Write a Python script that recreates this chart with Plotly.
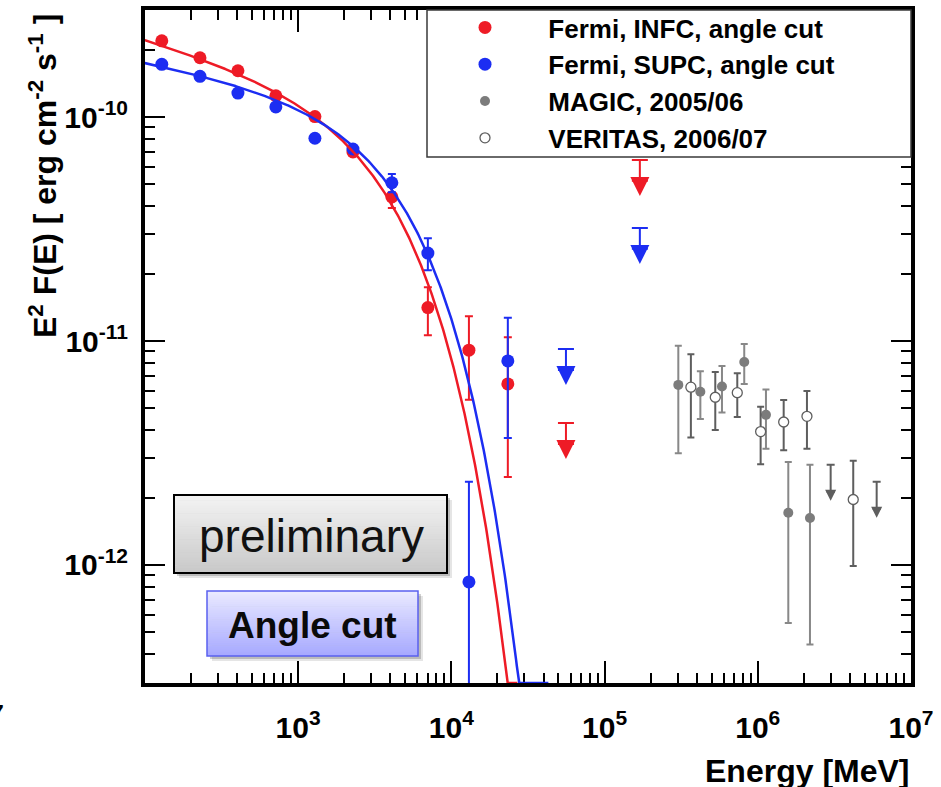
import numpy as np
import plotly.graph_objects as go

# ---------------- Fermi-LAT spectral points (E in MeV, E^2 F(E) in erg cm^-2 s^-1)
fermi_energy = [129, 229, 405, 716, 1288, 2281, 4093, 7031, 13030, 23380]

infc_flux = [2.19e-10, 1.84e-10, 1.61e-10, 1.245e-10, 1.005e-10, 6.98e-11, 4.40e-11, 1.41e-11, 9.1e-12, 6.43e-12]
infc_low = [2.13e-10, 1.79e-10, 1.57e-10, 1.21e-10, 0.98e-10, 6.75e-11, 3.93e-11, 1.06e-11, 5.46e-12, 2.47e-12]
infc_high = [2.25e-10, 1.89e-10, 1.65e-10, 1.28e-10, 1.03e-10, 7.2e-11, 4.92e-11, 1.74e-11, 1.29e-11, 1.04e-11]

supc_flux = [1.72e-10, 1.52e-10, 1.28e-10, 1.11e-10, 8.04e-11, 7.20e-11, 5.09e-11, 2.47e-11, 8.4e-13, 8.15e-12]
supc_low = [1.67e-10, 1.48e-10, 1.24e-10, 1.08e-10, 7.8e-11, 7.0e-11, 4.62e-11, 2.07e-11, 1e-15, 3.69e-12]
supc_high = [1.77e-10, 1.56e-10, 1.32e-10, 1.14e-10, 8.3e-11, 7.4e-11, 5.57e-11, 2.88e-11, 2.35e-12, 1.27e-11]

# Fermi upper limits
ul_energy = [5.6e4, 1.7e5]
infc_ul = [4.3e-12, 6.43e-11]
supc_ul = [9.2e-12, 3.2e-11]

# ---------------- IACT measurements
magic_energy = [3.03e5, 4.22e5, 5.84e5, 8.16e5, 1.131e6, 1.582e6, 2.191e6]
magic_flux = [6.37e-12, 5.94e-12, 6.26e-12, 8.06e-12, 4.68e-12, 1.71e-12, 1.62e-12]
magic_low = [3.15e-12, 4.48e-12, 4.79e-12, 6.43e-12, 3.30e-12, 5.5e-13, 4.41e-13]
magic_high = [9.53e-12, 7.33e-12, 7.74e-12, 9.71e-12, 6.07e-12, 2.88e-12, 2.80e-12]

veritas_energy = [3.66e5, 5.28e5, 7.35e5, 1.044e6, 1.476e6, 2.094e6, 4.198e6]
veritas_flux = [6.22e-12, 5.61e-12, 5.88e-12, 3.94e-12, 4.35e-12, 4.61e-12, 1.96e-12]
veritas_low = [3.71e-12, 4.01e-12, 4.58e-12, 2.82e-12, 3.25e-12, 3.30e-12, 9.9e-13]
veritas_high = [8.73e-12, 7.28e-12, 7.18e-12, 5.09e-12, 5.45e-12, 5.98e-12, 2.92e-12]

iact_ul_energy = [2.99e6, 5.97e6]
iact_ul = [2.80e-12, 2.35e-12]

# ---------------- Power law with exponential cutoff fits: N * (E/1 GeV)^s * exp(-E/Ec)
infc_fit = dict(norm=1.426e-10, slope=-0.20, ecut=4200.0, emax=2.7e4)
supc_fit = dict(norm=1.318e-10, slope=-0.13, ecut=4874.0, emax=4.3e4)

# axis setup
x_log_range = [2.001, 7.0]
y_log_range = [-12.527, -9.522]
x_major = [1e3, 1e4, 1e5, 1e6, 1e7]
x_major_text = ["10<sup>3</sup>", "10<sup>4</sup>", "10<sup>5</sup>", "10<sup>6</sup>", "10<sup>7</sup>"]
y_major = [1e-12, 1e-11, 1e-10]
y_major_text = ["10<sup>-12</sup>", "10<sup>-11</sup>", "10<sup>-10</sup>"]
x_minor = [k * 10.0 ** n for n in range(2, 7) for k in range(2, 10)]
y_minor = [k * 10.0 ** n for n in range(-13, -9) for k in range(2, 10)
           if y_log_range[0] <= np.log10(k * 10.0 ** n) <= y_log_range[1]]

RED = "#ee1b26"
BLUE = "#1c2df2"
MAGIC_COL = "#7c7c7c"
MAGIC_BAR = "#888888"
VER_COL = "#5e5e5e"
FONT = "Liberation Sans"

# figure geometry in pixels
W, H = 941, 787
PL, PR, PT, PB = 145, 911, 10, 683
DEC_PX = (PB - PT) / (y_log_range[1] - y_log_range[0])
ARROW_PX = 36  # length of upper-limit arrows


def xp(px):
    return (px - PL) / (PR - PL)


def yp(py):
    return (PB - py) / (PB - PT)


fig = go.Figure()


def add_points(x, y, lo, hi, name, color, size, bar_color, cap, fill=None, group=None):
    # error bars first, markers on top of them
    fig.add_trace(go.Scatter(
        x=x, y=y, mode="markers", showlegend=False, legendgroup=group, hoverinfo="skip",
        marker=dict(size=1, opacity=0),
        error_y=dict(type="data", symmetric=False,
                     array=[h - v for v, h in zip(y, hi)],
                     arrayminus=[v - l for v, l in zip(y, lo)],
                     color=bar_color, thickness=2, width=cap)))
    fig.add_trace(go.Scatter(
        x=x, y=y, mode="markers", name=name, legendgroup=group,
        marker=dict(symbol="circle", size=size, color=fill if fill else color,
                    line=dict(color=color, width=1.3 if fill else 0))))


def add_upper_limits(x, ul, color, size, cap, group):
    tip = [u / 10 ** (ARROW_PX / DEC_PX) for u in ul]
    base = [t * 10 ** (0.8 * size / DEC_PX) for t in tip]
    fig.add_trace(go.Scatter(
        x=x, y=base, mode="markers", showlegend=False, legendgroup=group, hoverinfo="skip",
        marker=dict(size=1, opacity=0),
        error_y=dict(type="data", symmetric=False,
                     array=[u - b for u, b in zip(ul, base)], arrayminus=[0] * len(ul),
                     color=color, thickness=2, width=cap)))
    fig.add_trace(go.Scatter(
        x=x, y=tip, mode="markers", showlegend=False, legendgroup=group,
        marker=dict(symbol="arrow-down", size=size, color=color, line=dict(width=0))))


def add_fit(p, color, group):
    e = np.logspace(2, np.log10(p["emax"]), 500)
    f = p["norm"] * (e / 1000.0) ** p["slope"] * np.exp(-e / p["ecut"])
    f = np.maximum(f, 10 ** y_log_range[0])
    fig.add_trace(go.Scatter(x=e, y=f, mode="lines", showlegend=False, legendgroup=group,
                             line=dict(color=color, width=2.5), hoverinfo="skip"))


PAD = "\u00a0" * 6

add_points(fermi_energy, infc_flux, infc_low, infc_high, PAD + "Fermi, INFC, angle cut",
           RED, 13, RED, 4, group="infc")
add_points(fermi_energy, supc_flux, supc_low, supc_high, PAD + "Fermi, SUPC, angle cut",
           BLUE, 13, BLUE, 4, group="supc")
add_upper_limits(ul_energy, infc_ul, RED, 19, 8, "infc")
add_upper_limits(ul_energy, supc_ul, BLUE, 19, 8, "supc")
add_points(magic_energy, magic_flux, magic_low, magic_high, PAD + "MAGIC, 2005/06",
           MAGIC_COL, 10, MAGIC_BAR, 3.5, group="magic")
add_points(veritas_energy, veritas_flux, veritas_low, veritas_high, PAD + "VERITAS, 2006/07",
           VER_COL, 10, VER_COL, 3.5, fill="white", group="veritas")
add_upper_limits(iact_ul_energy, iact_ul, VER_COL, 11, 4, "veritas")
add_fit(infc_fit, RED, "infc")
add_fit(supc_fit, BLUE, "supc")

shapes = []
annotations = []


def gradient_box(x0, y0, x1, y1, top, bottom, border, bw, n=30):
    # soft drop shadow
    for off, a in [(5, 0.10), (3, 0.18)]:
        shapes.append(dict(type="rect", xref="paper", yref="paper",
                           x0=xp(x0 + off), x1=xp(x1 + off), y0=yp(y0 + off), y1=yp(y1 + off),
                           fillcolor=f"rgba(0,0,0,{a})", line=dict(width=0), layer="above"))
    for i in range(n):
        t = (i + 0.5) / n
        c = [int(round(top[k] + (bottom[k] - top[k]) * t)) for k in range(3)]
        ya = y0 + (y1 - y0) * i / n
        yb = y0 + (y1 - y0) * (i + 1) / n + 0.6
        shapes.append(dict(type="rect", xref="paper", yref="paper",
                           x0=xp(x0), x1=xp(x1), y0=yp(ya), y1=yp(min(yb, y1)),
                           fillcolor=f"rgb({c[0]},{c[1]},{c[2]})", line=dict(width=0),
                           layer="above"))
    shapes.append(dict(type="rect", xref="paper", yref="paper",
                       x0=xp(x0), x1=xp(x1), y0=yp(y0), y1=yp(y1),
                       line=dict(color=border, width=bw), layer="above"))


# legend frame
shapes.append(dict(type="rect", xref="paper", yref="paper",
                   x0=xp(427), x1=xp(911), y0=yp(157), y1=yp(10),
                   fillcolor="white", line=dict(color="#3a3a3a", width=1.5), layer="above"))

gradient_box(174, 495, 447, 573, (244, 244, 244), (200, 200, 200), "black", 2)
gradient_box(207, 591, 418, 656, (234, 234, 255), (166, 168, 255), "#5a60f0", 1.5)

annotations.append(dict(text="preliminary", xref="paper", yref="paper", x=xp(311), y=yp(536),
                        showarrow=False, xanchor="center", yanchor="middle",
                        font=dict(family=FONT, size=46, color="#111111")))
annotations.append(dict(text="<b>Angle cut</b>", xref="paper", yref="paper", x=xp(312), y=yp(625),
                        showarrow=False, xanchor="center", yanchor="middle",
                        font=dict(family=FONT, size=37, color="#0a0a0a")))
annotations.append(dict(text="<b>E<sup>2</sup> F(E) [ erg cm<sup>-2</sup> s<sup>-1</sup> ]</b>",
                        xref="paper", yref="paper", x=xp(43), y=yp(176), textangle=-90,
                        showarrow=False, xanchor="center", yanchor="middle",
                        font=dict(family=FONT, size=32, color="black")))
annotations.append(dict(text="<b>Energy [MeV]</b>", xref="paper", yref="paper", x=xp(911), y=yp(771),
                        showarrow=False, xanchor="right", yanchor="middle",
                        font=dict(family=FONT, size=32, color="black")))
annotations.append(dict(text="<b>7</b>", xref="paper", yref="paper", x=xp(6), y=yp(711),
                        showarrow=False, xanchor="right", yanchor="middle",
                        font=dict(family=FONT, size=21, color="black")))

axis_common = dict(type="log", showline=True, linewidth=4, linecolor="black", mirror="allticks",
                   ticks="inside", tickwidth=2, tickcolor="black", showgrid=False, zeroline=False,
                   layer="below traces", tickmode="array", automargin=False,
                   tickfont=dict(family=FONT, size=30, color="black", weight="bold"))

fig.update_layout(
    width=W, height=H,
    margin=dict(l=PL, r=W - PR, t=PT, b=H - PB, autoexpand=False),
    paper_bgcolor="white", plot_bgcolor="white",
    xaxis=dict(axis_common, range=x_log_range, tickvals=x_major, ticktext=x_major_text, ticklen=22,
               ticklabelstandoff=15,
               minor=dict(tickmode="array", tickvals=x_minor, ticks="inside", ticklen=10,
                          tickwidth=1.5, tickcolor="black", showgrid=False)),
    yaxis=dict(axis_common, range=y_log_range, tickvals=y_major, ticktext=y_major_text, ticklen=20,
               ticklabelstandoff=7,
               minor=dict(tickmode="array", tickvals=y_minor, ticks="inside", ticklen=10,
                          tickwidth=1.5, tickcolor="black", showgrid=False)),
    legend=dict(xref="container", yref="container", x=465 / W, y=1 - 4 / H,
                xanchor="left", yanchor="top", bgcolor="rgba(0,0,0,0)", borderwidth=0,
                tracegroupgap=0, itemsizing="trace",
                font=dict(family=FONT, size=26, color="black", weight="bold")),
    shapes=shapes, annotations=annotations,
    showlegend=True,
)

fig.write_html("out.html")
